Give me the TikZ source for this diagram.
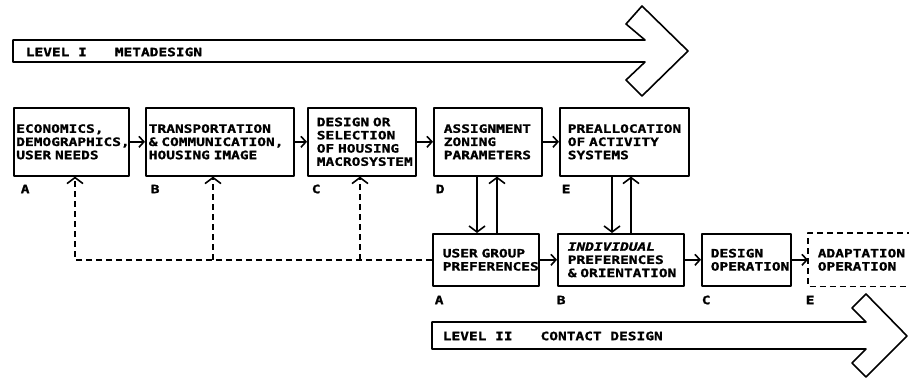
\documentclass[tikz,border=0pt]{standalone}
\usepackage{fontspec}
\newfontfamily\prt{DejaVu Sans Mono}[UprightFont={* Bold}, ItalicFont={* Bold Oblique}, BoldFont={* Bold}, FakeStretch=1.26, FakeBold=1.2]
\usetikzlibrary{arrows.meta}
\begin{document}
\begin{tikzpicture}[x=1pt,y=-1pt, line width=1.6pt, line join=round,
  txt/.style={font={\prt\fontsize{11.5}{13.2}\selectfont}},
  box/.style={txt, draw, rectangle, anchor=north west, inner ysep=0pt, align=left},
  lbl/.style={txt, anchor=west, inner sep=0pt},
  harr/.style={-{Straight Barb[length=5pt,width=11pt]}},
  varr/.style={-{Straight Barb[length=6pt,width=16pt]}},
  fb/.style={dash pattern=on 6pt off 4pt},
  bigarrow/.style={draw, line width=1.6pt}
]
\useasboundingbox (0,0) rectangle (909,378);

% Level I arrow
\draw[bigarrow] (13,40) -- (645,40) -- (626,24) -- (642,6) -- (688,51) -- (642,96) -- (626,80) -- (645,62) -- (13,62) -- cycle;
\node[lbl] (lvl1) at (25,52) {LEVEL I\hspace*{28pt}METADESIGN};

% Level II arrow
\draw[bigarrow] (432,322) -- (866,322) -- (852,308) -- (866,294) -- (907,336) -- (866,377) -- (852,363) -- (866,349) -- (432,349) -- cycle;
\node[lbl] (lvl2) at (442,336) {LEVEL II\hspace*{28pt}CONTACT DESIGN};

% Row 1 boxes
\node[box, minimum width=115pt, minimum height=68pt, inner xsep=2.5pt, text width=110pt] (A) at (13,107)
  {\mbox{ECONOMICS,}\\\mbox{DEMOGRAPHICS,}\\\mbox{USER NEEDS}};
\node[box, minimum width=148pt, minimum height=68pt, inner xsep=3pt, text width=142pt] (B) at (145,107)
  {TRANSPORTATION\\\mbox{\& COMMUNICATION,}\\HOUSING IMAGE};
\node[box, minimum width=108pt, minimum height=68pt, inner xsep=9pt, text width=90pt] (C) at (307,107)
  {DESIGN OR\\SELECTION\\OF HOUSING\\\mbox{MACROSYSTEM}};
\node[box, minimum width=108pt, minimum height=68pt, inner xsep=10pt, text width=88pt] (D) at (433,107)
  {ASSIGNMENT\\ZONING\\PARAMETERS};
\node[box, minimum width=129pt, minimum height=68pt, inner xsep=8pt, text width=113pt] (E) at (559,107)
  {PREALLOCATION\\OF ACTIVITY\\SYSTEMS};

% Row 2 boxes
\node[box, minimum width=106pt, minimum height=52pt, inner xsep=10pt, text width=86pt] (UG) at (432,233)
  {USER GROUP\\\mbox{PREFERENCES}};
\node[box, minimum width=126pt, minimum height=52pt, inner xsep=10pt, text width=106pt] (IP) at (557,233)
  {\itshape INDIVIDUAL\\\upshape PREFERENCES\\\mbox{\& ORIENTATION}};
\node[box, minimum width=89pt, minimum height=52pt, inner xsep=9pt, text width=71pt] (DO) at (701,233)
  {DESIGN\\\mbox{OPERATION}};
\node[box, draw=none, minimum width=103pt, minimum height=52pt, inner xsep=9pt, text width=85pt] (AO) at (808,233)
  {ADAPTATION\\OPERATION};
\draw[fb] (AO.north east) -- (AO.north west) -- (AO.south west) -- (AO.south east);

% Letter labels
\node[lbl] (la1) at (20,189) {A};
\node[lbl] (lb1) at (150,189) {B};
\node[lbl] (lc1) at (311,189) {C};
\node[lbl] (ld1) at (435,189) {D};
\node[lbl] (le1) at (561,189) {E};
\node[lbl] (la2) at (434,300) {A};
\node[lbl] (lb2) at (556,300) {B};
\node[lbl] (lc2) at (701,300) {C};
\node[lbl] (le2) at (805,300) {E};

% Horizontal arrows
\draw[harr] (A.east) -- (B.west);
\draw[harr] (B.east) -- (C.west);
\draw[harr] (C.east) -- (D.west);
\draw[harr] (D.east) -- (E.west);
\draw[harr] (UG.east) -- (IP.west);
\draw[harr] (IP.east) -- (DO.west);
\draw[harr] (DO.east) -- (AO.west);

% Vertical arrows
\draw[varr] (D.south -| 477,0) -- (UG.north -| 477,0);
\draw[varr] (UG.north -| 497,0) -- (D.south -| 497,0);
\draw[varr] (E.south -| 612,0) -- (IP.north -| 612,0);
\draw[varr] (IP.north -| 631,0) -- (E.south -| 631,0);

% Dashed feedback
\coordinate (fA) at (75,259);
\draw[fb, varr] (UG.west) -- (UG.west -| fA) -- (A.south -| fA);
\draw[fb, varr] (UG.west -| 213,0) -- (B.south -| 213,0);
\draw[fb, varr] (UG.west -| 360,0) -- (C.south -| 360,0);
\end{tikzpicture}
\end{document}
